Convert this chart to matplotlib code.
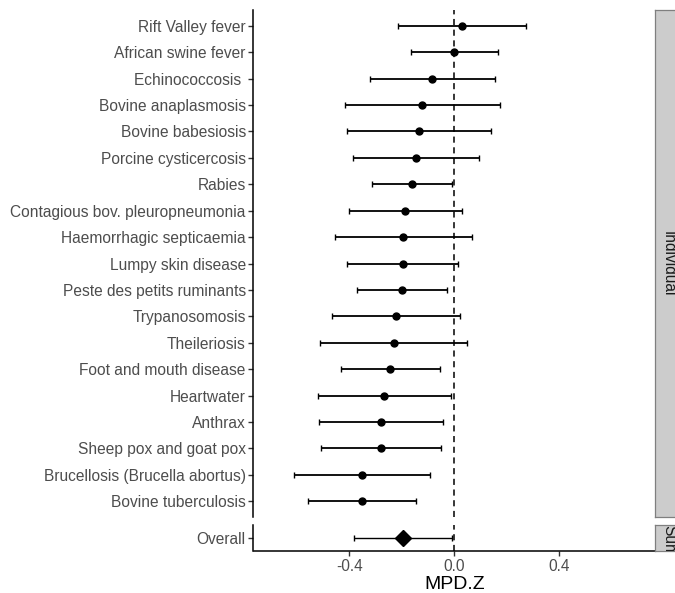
import numpy as np
import matplotlib
matplotlib.use('Agg')
import matplotlib.pyplot as plt

# disease-level estimates (top to bottom) with 95% intervals
diseases = ['Rift Valley fever', 'African swine fever', 'Echinococcosis ', 'Bovine anaplasmosis',
            'Bovine babesiosis', 'Porcine cysticercosis', 'Rabies', 'Contagious bov. pleuropneumonia',
            'Haemorrhagic septicaemia', 'Lumpy skin disease', 'Peste des petits ruminants',
            'Trypanosomosis', 'Theileriosis', 'Foot and mouth disease', 'Heartwater', 'Anthrax',
            'Sheep pox and goat pox', 'Brucellosis (Brucella abortus)', 'Bovine tuberculosis']
est = [0.029, 0.0, -0.084, -0.124, -0.133, -0.146, -0.161, -0.187, -0.196, -0.197, -0.198,
       -0.221, -0.231, -0.244, -0.267, -0.278, -0.279, -0.352, -0.352]
lower = [-0.213, -0.166, -0.320, -0.418, -0.409, -0.386, -0.314, -0.401, -0.455, -0.410, -0.370,
         -0.466, -0.510, -0.432, -0.518, -0.516, -0.508, -0.610, -0.559]
upper = [0.273, 0.166, 0.155, 0.173, 0.141, 0.094, -0.008, 0.030, 0.067, 0.015, -0.027,
         0.023, 0.048, -0.056, -0.014, -0.042, -0.050, -0.093, -0.146]

overall_est = -0.196
overall_lower = -0.382
overall_upper = -0.008

xticks = [-0.4, 0.0, 0.4]
xlim = (-0.765, 0.765)

W, H = 675, 593
fig = plt.figure(figsize=(W / 100, H / 100), dpi=100)
plt.rcParams['font.family'] = ['Liberation Sans', 'DejaVu Sans']

def box(l, t, r, b):
    return [l / W, 1 - b / H, (r - l) / W, (b - t) / H]

ax1 = fig.add_axes(box(253.5, 10, 655, 517))
ax2 = fig.add_axes(box(253.5, 525, 655, 551))

tick_col = '#4D4D4D'
n = len(diseases)
ypos = np.arange(n, 0, -1)

est = np.array(est)
lower = np.array(lower)
upper = np.array(upper)
ax1.errorbar(est, ypos, xerr=[est - lower, upper - est], fmt='o', color='black',
             ms=5, elinewidth=1.3, capsize=2, capthick=1.0)
ax1.axvline(0, color='black', lw=1.1, ls=(0, (4, 3)))
ax1.set_ylim(0.4, n + 0.6)
ax1.set_yticks(ypos)
ax1.set_yticklabels(diseases)

ax2.errorbar([overall_est], [1], xerr=[[overall_est - overall_lower], [overall_upper - overall_est]],
             fmt='D', color='black', ms=8, elinewidth=1.0, capsize=2, capthick=1.0)
ax2.axvline(0, color='black', lw=1.1, ls=(0, (4, 3)))
ax2.set_ylim(0.4, 1.6)
ax2.set_yticks([1])
ax2.set_yticklabels(['Overall'])

for ax in (ax1, ax2):
    ax.set_xlim(*xlim)
    ax.spines['top'].set_visible(False)
    ax.spines['right'].set_visible(False)
    ax.spines['left'].set_linewidth(1.1)
    ax.spines['bottom'].set_linewidth(1.1)
    ax.tick_params(axis='y', length=3.5, width=1, color='#333333', labelsize=11.2,
                   labelcolor=tick_col, pad=2)
    ax.tick_params(axis='x', length=3.5, width=1, color='#333333', labelsize=11.2,
                   labelcolor=tick_col, pad=2)

ax1.spines['bottom'].set_visible(False)
ax1.set_xticks([])
ax2.set_xticks(xticks)
ax2.set_xticklabels(['-0.4', '0.0', '0.4'])
ax2.set_xlabel('MPD.Z', fontsize=14, va='center')
ax2.xaxis.set_label_coords(0.5, -1.27)

# facet strips on the right
for (t, b), label in [((10, 517), 'Individual'), ((525, 551), 'Summary')]:
    sax = fig.add_axes(box(655, t, 682, b))
    sax.set_xticks([])
    sax.set_yticks([])
    sax.set_facecolor('#CCCCCC')
    for s in sax.spines.values():
        s.set_color('#7F7F7F')
        s.set_linewidth(0.9)
    va = 'center' if label == 'Individual' else 'top'
    ty = 0.5 if label == 'Individual' else 1.0
    sax.text(0.5, ty, label, rotation=-90, ha='center', va=va, fontsize=11.2,
             color='#1A1A1A', transform=sax.transAxes, clip_on=True)

fig.savefig('out.png', dpi=100)
